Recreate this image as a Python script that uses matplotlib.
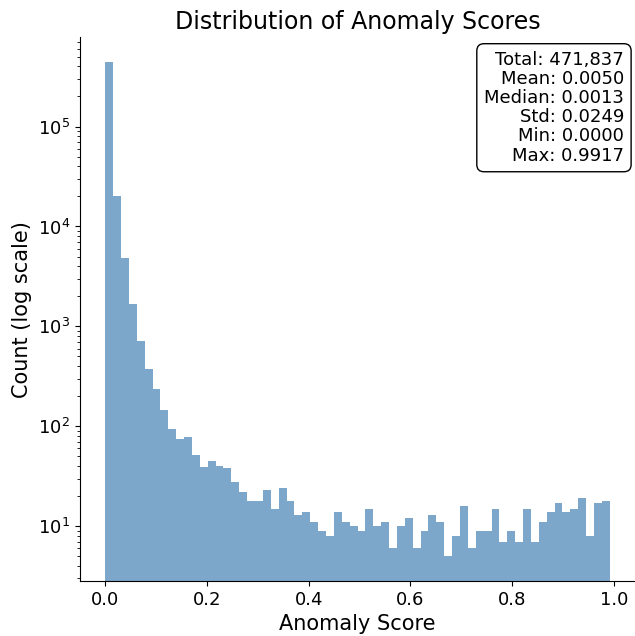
import numpy as np
import matplotlib
matplotlib.use("Agg")
import matplotlib.pyplot as plt

# histogram of anomaly scores (64 equal bins from min to max)
score_min = 0.0
score_max = 0.9917
n_bins = 64

counts = [442398, 20400, 4830, 1660, 720, 375, 237, 144, 93, 74,
          78, 52, 39, 45, 40, 38, 28, 22, 18, 18,
          23, 15, 24, 18, 13, 14, 11, 9, 8, 14,
          11, 10, 9, 15, 10, 11, 6, 10, 12, 6,
          9, 13, 11, 5, 8, 16, 6, 9, 9, 15,
          7, 9, 7, 15, 7, 11, 14, 17, 14, 15,
          19, 8, 17, 18]

stats_labels = ["Total", "Mean", "Median", "Std", "Min", "Max"]
stats_values = ["471,837", "0.0050", "0.0013", "0.0249", "0.0000", "0.9917"]

edges = np.linspace(score_min, score_max, n_bins + 1)
centers = (edges[:-1] + edges[1:]) / 2

fig, ax = plt.subplots(figsize=(6.35, 6.36), dpi=100)
fig.subplots_adjust(left=0.126, right=1.0, bottom=0.0865, top=0.9413)

ax.hist(centers, bins=edges, weights=counts, log=True,
        color="steelblue", alpha=0.7)

ax.set_title("Distribution of Anomaly Scores", fontsize=17)
ax.set_xlabel("Anomaly Score", fontsize=15)
ax.set_ylabel("Count (log scale)", fontsize=15)
ax.tick_params(axis="both", labelsize=13)

ax.spines["top"].set_visible(False)
ax.spines["right"].set_visible(False)

#stats box
txt = "\n".join("{}: {}".format(l, v) for l, v in zip(stats_labels, stats_values))
ax.text(0.98, 0.975, txt, transform=ax.transAxes, fontsize=13,
        ha="right", va="top", multialignment="right", linespacing=1.08,
        bbox=dict(boxstyle="round,pad=0.4", facecolor="white", edgecolor="black"))

fig.savefig("out.png", dpi=100)
